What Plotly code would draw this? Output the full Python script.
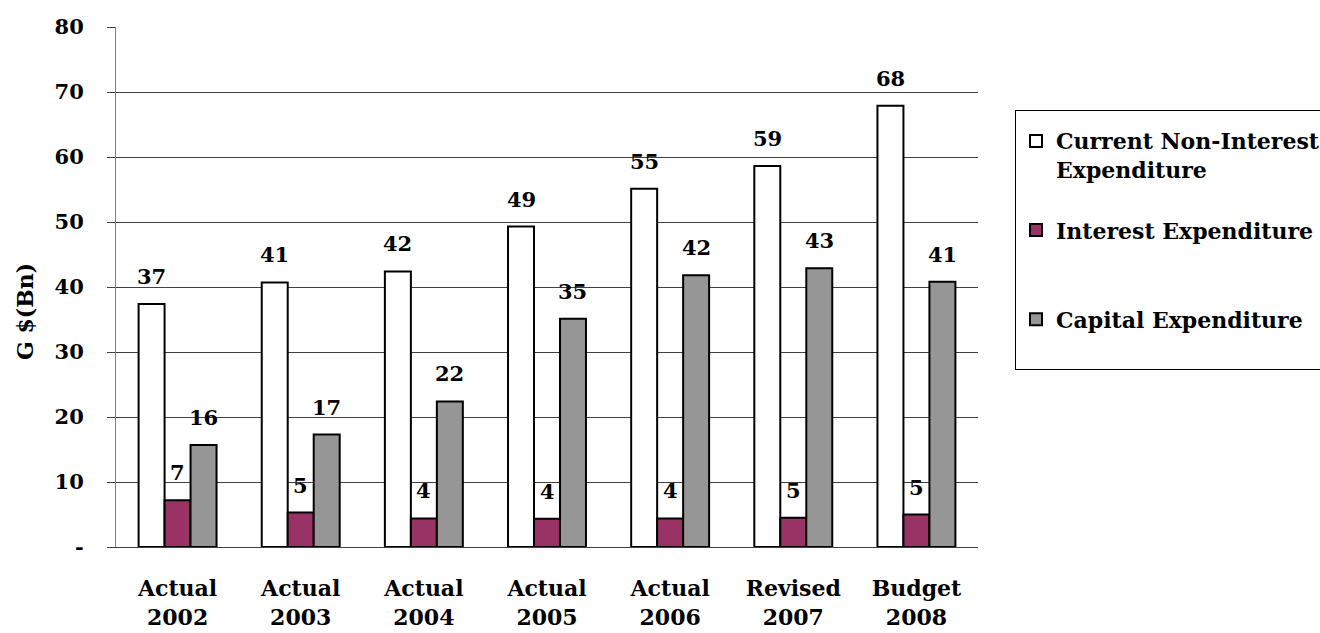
import math
import plotly.graph_objects as go

categories = ["Actual<br>2002", "Actual<br>2003", "Actual<br>2004", "Actual<br>2005",
              "Actual<br>2006", "Revised<br>2007", "Budget<br>2008"]
current_non_interest = [37.4, 40.7, 42.4, 49.3, 55.1, 58.6, 67.9]
interest = [7.2, 5.3, 4.4, 4.35, 4.4, 4.5, 5.0]
capital = [15.7, 17.3, 22.4, 35.1, 41.8, 42.9, 40.8]
series_names = ["<b>Current Non-Interest<br>Expenditure</b>", "<b>Interest Expenditure</b><br> ",
                "<b>Capital Expenditure</b><br> "]
y_tickvals = [0, 10, 20, 30, 40, 50, 60, 70, 80]
y_ticktext = ["-", "10", "20", "30", "40", "50", "60", "70", "80"]

FONT = "DejaVu Serif"
W, H = 1320, 633
ML, MR, MT, MB = 116, 342, 27, 86
BARGAP = 0.367
colors = ["#FFFFFF", "#993366", "#969696"]
series = [current_non_interest, interest, capital]

fig = go.Figure()
for name, vals, col in zip(series_names, series, colors):
    fig.add_trace(go.Bar(
        x=categories, y=vals, name=name, legendgroup=name,
        marker=dict(color=col, line=dict(color="#000000", width=2)),
        hoverinfo="skip",
    ))

plot_w = W - ML - MR
plot_h = H - MT - MB
cat_w = plot_w / len(categories)
bar_w = cat_w * (1 - BARGAP) / 3
annotations = []
for i, vals in enumerate(series):
    for c, v in zip(categories, vals):
        annotations.append(dict(
            x=c, y=v, xref="x", yref="y", text="<b>%d</b>" % int(math.floor(v + 0.5)),
            showarrow=False, xanchor="center", yanchor="bottom",
            xshift=(i - 1) * bar_w, yshift=13,
            font=dict(family=FONT, size=21, color="#000000"),
        ))
annotations.append(dict(
    x=(25 - ML) / plot_w, y=(H - MB - 312) / plot_h, xref="paper", yref="paper",
    text="<b>G $(Bn)</b>", textangle=-90, showarrow=False, xanchor="center", yanchor="middle",
    font=dict(family=FONT, size=22, color="#000000"),
))

fig.update_layout(
    width=W, height=H,
    margin=dict(l=ML, r=MR, t=MT, b=MB, pad=0, autoexpand=False),
    paper_bgcolor="#FFFFFF", plot_bgcolor="#FFFFFF",
    font=dict(family=FONT, size=21, color="#000000"),
    barmode="group", bargap=BARGAP, bargroupgap=0,
    showlegend=True,
    legend=dict(
        x=(1015 - ML) / plot_w, y=(H - MB - 110) / plot_h,
        xanchor="left", yanchor="top",
        bordercolor="#000000", borderwidth=1, bgcolor="#FFFFFF",
        font=dict(family=FONT, size=22, color="#000000"),
        title=dict(text=" ", font=dict(family=FONT, size=7)),
        valign="top", traceorder="grouped", tracegroupgap=29,
    ),
    xaxis=dict(
        type="category", showgrid=False, zeroline=False, automargin=False,
        showline=True, linecolor="#404040", linewidth=1,
        ticks="", ticklabelstandoff=22,
        tickmode="array", tickvals=categories,
        ticktext=["<b>%s</b>" % c for c in categories],
        tickfont=dict(family=FONT, size=22, color="#000000"),
    ),
    xaxis2=dict(
        overlaying="x", anchor="y", side="bottom", range=[-0.5, 6.5], automargin=False,
        tickmode="array", tickvals=[-0.5, 1.5, 3.5, 5.5], ticks="outside", ticklen=8,
        tickcolor="#404040", tickwidth=1, showticklabels=False,
        showgrid=False, zeroline=False, showline=False,
    ),
    yaxis=dict(
        range=[0, 80], tickmode="array", tickvals=y_tickvals,
        ticktext=["<b>%s</b>" % t for t in y_ticktext], automargin=False,
        showgrid=True, gridcolor="#404040", gridwidth=1,
        zeroline=False, showline=True, linecolor="#808080", linewidth=1,
        ticks="outside", ticklen=8, tickcolor="#404040", tickwidth=1,
        ticklabelstandoff=19,
        tickfont=dict(family=FONT, size=21, color="#000000"),
    ),
    annotations=annotations,
)

fig.write_html("out.html")
